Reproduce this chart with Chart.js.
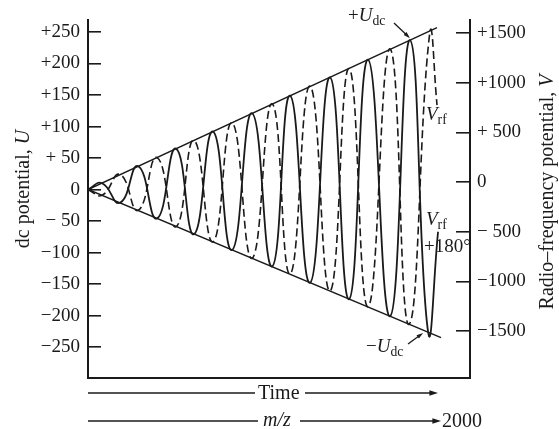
<!DOCTYPE html>
<html lang="en">
<head>
<meta charset="UTF-8">
<title>Quadrupole rod voltages</title>
<script src="https://cdn.jsdelivr.net/npm/chart.js"></script>
<style>
  html, body { margin: 0; padding: 0; background: #fff; }
  #wrap { width: 559px; height: 429px; }
</style>
</head>
<body>
<div id="wrap"><canvas id="chart" width="559" height="429"></canvas></div>
<script>
// dc ramp lines (m/z along the sweep, U in volts on the left axis)
const upperMz = [0, 2000];
const upperU = [0, 257];
const lowerMz = [0, 2023];
const lowerU = [0, -235];

// rf waves, extremes (m/z, drawn against the U axis)
const solidMz = [0, 80, 183, 287, 395, 504, 607, 716, 825, 940, 1055, 1158, 1272, 1387, 1496, 1605, 1731, 1845, 1949, 2006];
const solidU = [0, 10, -21, 37, -46, 65, -71, 92, -96, 121, -122, 149, -148, 178, -174, 206, -201, 237, -226, -67];
const dashedMz = [0, 80, 183, 287, 395, 504, 607, 716, 825, 940, 1055, 1158, 1272, 1387, 1496, 1605, 1731, 1839, 1960, 2000];
const dashedU = [0, -9, 24, -33, 51, -59, 78, -83, 106, -109, 136, -134, 164, -161, 192, -186, 223, -214, 252, 134];

// axis ticks
const dcTicks = [250, 200, 150, 100, 50, 0, -50, -100, -150, -200, -250];
const dcLabels = ['+250', '+200', '+150', '+100', '+ 50', '0', '\u2212 50', '\u2212100', '\u2212150', '\u2212200', '\u2212250'];
const rfTicks = [1500, 1000, 500, 0, -500, -1000, -1500];
const rfLabels = ['+1500', '+1000', '+ 500', '0', '\u2212 500', '\u22121000', '\u22121500'];

const INK = '#1a1a1a';
const SERIF = '"Liberation Serif", "DejaVu Serif", serif';

function pts(xs, ys) {
    return xs.map((x, i) => ({ x: x, y: ys[i] }));
}

// draws text made of normal / italic / subscript pieces, returns width
function richText(ctx, parts, x, y, size, measureOnly) {
    let cx = x;
    for (const [t, st] of parts) {
        const fs = st === 's' ? size * 0.72 : size;
        ctx.font = (st === 'i' ? 'italic ' : '') + fs + 'px ' + SERIF;
        if (!measureOnly) ctx.fillText(t, cx, st === 's' ? y + size * 0.22 : y);
        cx += ctx.measureText(t).width;
    }
    return cx - x;
}

function arrow(ctx, x1, y1, x2, y2, head) {
    const a = Math.atan2(y2 - y1, x2 - x1);
    ctx.beginPath();
    ctx.moveTo(x1, y1);
    ctx.lineTo(x2 - Math.cos(a) * head * 0.8, y2 - Math.sin(a) * head * 0.8);
    ctx.stroke();
    ctx.beginPath();
    ctx.moveTo(x2, y2);
    ctx.lineTo(x2 - head * Math.cos(a - 0.3), y2 - head * Math.sin(a - 0.3));
    ctx.lineTo(x2 - head * Math.cos(a + 0.3), y2 - head * Math.sin(a + 0.3));
    ctx.closePath();
    ctx.fill();
}

const decorPlugin = {
    id: 'decor',
    afterDraw(chart) {
        const ctx = chart.ctx;
        const xs = chart.scales.x;
        const ys = chart.scales.yU;
        const area = chart.chartArea;
        ctx.save();
        ctx.fillStyle = INK;
        ctx.strokeStyle = INK;
        ctx.lineWidth = 1.3;
        ctx.textBaseline = 'alphabetic';
        ctx.textAlign = 'left';

        // axis titles
        const leftTitle = [['dc potential, ', 'n'], ['U', 'i']];
        const rightTitle = [['Radio\u2013frequency potential, ', 'n'], ['V', 'i']];
        let w = richText(ctx, leftTitle, 0, 0, 20, true);
        ctx.save();
        ctx.translate(29, 189);
        ctx.rotate(-Math.PI / 2);
        richText(ctx, leftTitle, -w / 2, 0, 20);
        ctx.restore();
        w = richText(ctx, rightTitle, 0, 0, 20, true);
        ctx.save();
        ctx.translate(553, 192);
        ctx.rotate(-Math.PI / 2);
        richText(ctx, rightTitle, -w / 2, 0, 20);
        ctx.restore();

        // +Udc / -Udc callouts
        richText(ctx, [['+', 'n'], ['U', 'i'], ['dc', 's']], 348, 21, 19);
        const topX = xs.getPixelForValue(solidMz[17]);
        const topY = ys.getPixelForValue(solidU[17]);
        arrow(ctx, 394, 23, topX, topY - 2, 7);
        richText(ctx, [['\u2212', 'n'], ['U', 'i'], ['dc', 's']], 366, 352, 19);
        const botX = xs.getPixelForValue(solidMz[18]);
        const botY = ys.getPixelForValue(solidU[18]);
        arrow(ctx, 408, 344, botX - 5, botY + 1, 7);

        // rf labels
        richText(ctx, [['V', 'i'], ['rf', 's']], 426, 120, 19);
        richText(ctx, [['V', 'i'], ['rf', 's']], 426, 225, 19);
        richText(ctx, [['+180\u00b0', 'n']], 424, 252, 19);

        // Time and m/z arrows under the plot
        const x0 = area.left;
        ctx.lineWidth = 1.3;
        ctx.beginPath();
        ctx.moveTo(x0, 393); ctx.lineTo(255, 393);
        ctx.stroke();
        arrow(ctx, 305, 393, 438, 393, 9);
        ctx.font = '20px ' + SERIF;
        ctx.fillText('Time', 258, 399);

        ctx.beginPath();
        ctx.moveTo(x0, 421); ctx.lineTo(258, 421);
        ctx.stroke();
        arrow(ctx, 300, 421, 441, 421, 9);
        ctx.font = 'italic 20px ' + SERIF;
        ctx.fillText('m/z', 263, 426);
        ctx.font = '20px ' + SERIF;
        ctx.fillText('2000', 442, 427);
        ctx.restore();
    }
};

function fixedTicks(values) {
    return function (scale) {
        scale.ticks = values.map(v => ({ value: v }));
    };
}

function vertFit(width) {
    return function (s) {
        s.width = width;
        s.paddingTop = 0;
        s.paddingBottom = 0;
    };
}

new Chart(document.getElementById('chart'), {
    type: 'line',
    data: {
        datasets: [
            {
                label: 'Vrf',
                data: pts(dashedMz, dashedU),
                yAxisID: 'yU',
                borderColor: INK,
                borderWidth: 1.6,
                borderDash: [8, 4],
                pointRadius: 0,
                tension: 0.5
            },
            {
                label: 'Vrf + 180°',
                data: pts(solidMz, solidU),
                yAxisID: 'yU',
                borderColor: INK,
                borderWidth: 1.8,
                pointRadius: 0,
                tension: 0.5
            },
            {
                label: '+Udc',
                data: pts(upperMz, upperU),
                yAxisID: 'yU',
                borderColor: INK,
                borderWidth: 1.5,
                pointRadius: 0
            },
            {
                label: '-Udc',
                data: pts(lowerMz, lowerU),
                yAxisID: 'yU',
                borderColor: INK,
                borderWidth: 1.5,
                pointRadius: 0
            }
        ]
    },
    options: {
        responsive: false,
        animation: false,
        events: [],
        layout: { padding: { top: 20, left: 0, right: 0, bottom: 0 } },
        plugins: { legend: { display: false }, tooltip: { enabled: false } },
        scales: {
            x: {
                type: 'linear',
                position: 'bottom',
                min: 0,
                max: 2189,
                grid: { display: false },
                ticks: { display: false },
                border: { display: true, color: INK, width: 2 },
                afterFit(s) { s.height = 51; }
            },
            yU: {
                type: 'linear',
                position: 'left',
                min: -299,
                max: 269,
                afterBuildTicks: fixedTicks(dcTicks),
                ticks: {
                    padding: 21,
                    color: INK,
                    font: { family: SERIF, size: 19 },
                    callback: (v) => dcLabels[dcTicks.indexOf(v)]
                },
                grid: { drawOnChartArea: false, tickLength: -13, color: INK, lineWidth: 1.6 },
                border: { display: true, color: INK, width: 2 },
                afterFit: vertFit(88)
            },
            yV: {
                type: 'linear',
                position: 'right',
                min: -1973,
                max: 1631,
                afterBuildTicks: fixedTicks(rfTicks),
                ticks: {
                    padding: 21,
                    color: INK,
                    font: { family: SERIF, size: 19 },
                    callback: (v) => rfLabels[rfTicks.indexOf(v)]
                },
                grid: { drawOnChartArea: false, tickLength: -14, color: INK, lineWidth: 1.6 },
                border: { display: true, color: INK, width: 2 },
                afterFit: vertFit(89)
            }
        }
    },
    plugins: [decorPlugin]
});
</script>
</body>
</html>
